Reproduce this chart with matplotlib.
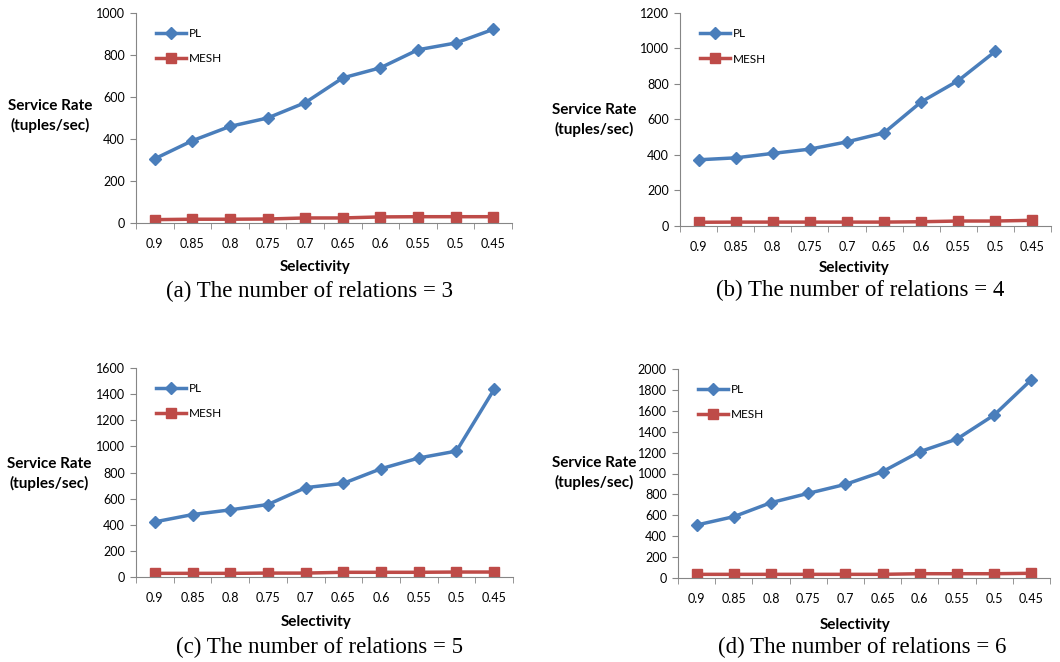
import matplotlib.pyplot as plt
import numpy as np

selectivity = ['0.9', '0.85', '0.8', '0.75', '0.7', '0.65', '0.6', '0.55', '0.5', '0.45']

pl_3 = [306, 392, 460, 500, 573, 691, 739, 825, 857, 922]
mesh_3 = [16, 18, 18, 19, 24, 24, 29, 30, 30, 30]

pl_4 = [373, 384, 409, 433, 474, 525, 699, 819, 984, np.nan]
mesh_4 = [21, 22, 22, 22, 22, 22, 24, 28, 28, 32]

pl_5 = [422, 478, 514, 555, 684, 717, 829, 911, 964, 1437]
mesh_5 = [28, 28, 28, 30, 30, 36, 36, 36, 38, 38]

pl_6 = [507, 587, 721, 810, 896, 1018, 1209, 1330, 1560, 1898]
mesh_6 = [35, 35, 35, 35, 35, 35, 41, 41, 41, 45]

captions = ['(a) The number of relations = 3', '(b) The number of relations = 4',
            '(c) The number of relations = 5', '(d) The number of relations = 6']
y_max = [1000, 1200, 1600, 2000]

W, H = 1060, 662
# panel boxes in pixels: left, right, top, bottom
boxes = [(136, 512, 13, 223), (680, 1051, 13, 226),
         (136, 513, 368, 577), (678, 1050, 369, 578)]
ylabel_pos = [(50, 116), (594, 120), (49, 474), (594, 473)]
xlabel_pos = [(315, 267), (854, 268), (316, 622), (855, 625)]
caption_pos = [(310, 291), (860, 290), (319, 647), (862, 647)]

blue = '#4A7EBB'
red = '#BE4B48'
sans = 'Lato'
serif = 'Liberation Serif'

fig = plt.figure(figsize=(W / 100, H / 100), dpi=100)

series = [(pl_3, mesh_3), (pl_4, mesh_4), (pl_5, mesh_5), (pl_6, mesh_6)]
x = np.arange(len(selectivity))

for i, (pl, mesh) in enumerate(series):
    l, r, t, b = boxes[i]
    ax = fig.add_axes([l / W, 1 - b / H, (r - l) / W, (b - t) / H])
    ax.plot(x, pl, '-D', color=blue, lw=2.5, ms=6, label='PL')
    ax.plot(x, mesh, '-s', color=red, lw=2.5, ms=7, label='MESH')
    ax.set_xlim(-0.5, len(selectivity) - 0.5)
    ax.set_ylim(0, y_max[i])
    ax.set_yticks(np.arange(0, y_max[i] + 1, 200))
    ax.set_xticks(x)
    ax.set_xticklabels(selectivity, fontfamily=sans, fontsize=9)
    ax.set_xticks(np.arange(-0.5, len(selectivity)), minor=True)
    ax.tick_params(axis='x', which='major', length=0, pad=11)
    ax.tick_params(axis='x', which='minor', length=4, color='#868686')
    ax.tick_params(axis='y', length=4, color='#868686', labelsize=9, pad=4)
    for lab in ax.get_yticklabels():
        lab.set_fontfamily(sans)
    for s in ['top', 'right']:
        ax.spines[s].set_visible(False)
    for s in ['left', 'bottom']:
        ax.spines[s].set_color('#868686')
    ax.legend(loc='upper left', bbox_to_anchor=(0.04, 0.95), frameon=False,
              prop={'family': sans, 'size': 8.5}, handlelength=2.6,
              labelspacing=1.2, handletextpad=0.2, borderaxespad=0)

    fig.text(ylabel_pos[i][0] / W, 1 - ylabel_pos[i][1] / H, 'Service Rate\n(tuples/sec)',
             ha='center', va='center', fontfamily=sans, fontweight='bold',
             fontsize=11, linespacing=1.4)
    fig.text(xlabel_pos[i][0] / W, 1 - xlabel_pos[i][1] / H, 'Selectivity',
             ha='center', va='center', fontfamily=sans, fontweight='bold', fontsize=11)
    fig.text(caption_pos[i][0] / W, 1 - caption_pos[i][1] / H, captions[i],
             ha='center', va='center', fontfamily=serif, fontsize=16.5)

plt.savefig('out.png', dpi=100)
